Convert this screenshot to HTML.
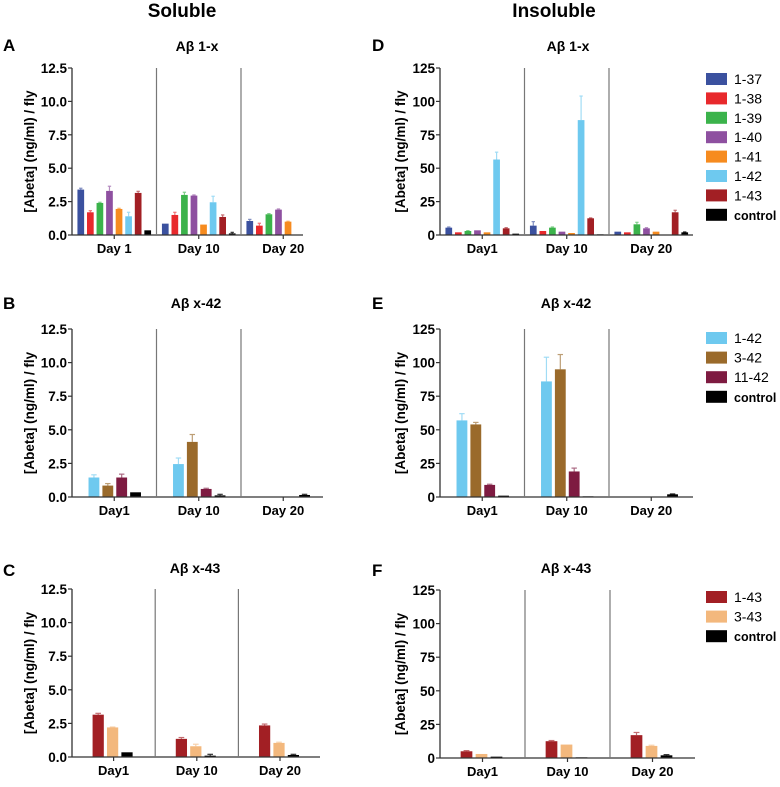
<!DOCTYPE html>
<html><head><meta charset="utf-8"><style>
body{margin:0;background:#fff;font-family:"Liberation Sans",Arial,sans-serif}
svg text{font-family:"Liberation Sans",Arial,sans-serif}
</style></head><body>
<svg id="fig" width="780" height="782" viewBox="0 0 780 782" xmlns="http://www.w3.org/2000/svg">
<text x="182" y="17" font-size="19" font-weight="bold" text-anchor="middle">Soluble</text>
<text x="554" y="17" font-size="19" font-weight="bold" text-anchor="middle">Insoluble</text>
</svg>
<script>
const days = ["Day 1","Day 10","Day 20"];
const daysB = ["Day1","Day 10","Day 20"];
const seriesAx = ["1-37","1-38","1-39","1-40","1-41","1-42","1-43","control"];
const series42 = ["1-42","3-42","11-42","control"];
const series43 = ["1-43","3-43","control"];
const colorsAx = ["#3b519f","#e8292c","#3bb34b","#8e50a0","#f68b1f","#6ec9ef","#a21f24","#000"];
const colors42 = ["#6ec9ef","#9a6a2b","#7e1b41","#000"];
const colors43 = ["#a21f24","#f3b87d","#000"];
// values [day][series]
const valA = [[3.4,1.7,2.4,3.3,1.95,1.4,3.15,0.35],[0.85,1.5,3.0,2.95,0.78,2.45,1.35,0.12],[1.05,0.7,1.55,1.9,1.0,0,2.3,0]];
const errA = [[0.1,0.12,0.05,0.35,0.05,0.3,0.12,0],[0,0.2,0.2,0.05,0,0.45,0.15,0.08],[0.12,0.18,0.05,0.05,0.03,0,0.1,0]];
const valD = [[5.5,2,3,3.5,2,56.5,5,1],[7,3,5.5,2.5,1.5,86,12.5,0.5],[2.5,2,8,5,2.5,0,17,2]];
const errD = [[0.5,0,0.3,0,0,5.5,0.5,0],[3,0,0.5,0,0,18,0.3,0],[0,0,1.5,0.5,0,0,1.5,0.3]];
const valB = [[1.45,0.85,1.45,0.35],[2.45,4.1,0.6,0.12],[0,0,0,0.15]];
const errB = [[0.2,0.15,0.25,0],[0.45,0.55,0.05,0.08],[0,0,0,0.05]];
const valE = [[57,54,9,1],[86,95,19,0.5],[0,0,0,2]];
const errE = [[5,1.5,0.5,0],[18,11,2.5,0],[0,0,0,0.3]];
const valC = [[3.15,2.2,0.35],[1.35,0.8,0.1],[2.35,1.05,0.15]];
const errC = [[0.1,0.03,0],[0.1,0.15,0.1],[0.1,0.05,0.05]];
const valF = [[5,3,1],[12.5,10,0.5],[17,9,2]];
const errF = [[0.5,0,0],[0.5,0,0],[2,0.5,0.5]];
const ticksSol = ["0.0","2.5","5.0","7.5","10.0","12.5"];
const ticksIns = ["0","25","50","75","100","125"];

const NS="http://www.w3.org/2000/svg";
const fig=document.getElementById('fig');
function mk(tag,attrs,parent){const e=document.createElementNS(NS,tag);for(const k in attrs)e.setAttribute(k,attrs[k]);(parent||fig).appendChild(e);return e;}
function lighten(c){if(c==="#000")return "#333";const n=parseInt(c.slice(1),16);let r=n>>16,g=(n>>8)&255,b=n&255;r=Math.round(r+(255-r)*0.35);g=Math.round(g+(255-g)*0.35);b=Math.round(b+(255-b)*0.35);return `rgb(${r},${g},${b})`;}

function panel(o){
  const g=mk('g',{});
  
  
  const ymax=parseFloat(o.ticks[o.ticks.length-1]);
  const y=v=>o.y0-(v/ymax)*(o.y0-o.yTop);
  const gw=o.gw;
  if(o.letter){const t=mk('text',{x:o.lx,y:o.ly,'font-size':17,'font-weight':'bold'},g);t.textContent=o.letter;
    }
  const ti=mk('text',{x:o.tx,y:o.ty,'font-size':14,'font-weight':'bold','text-anchor':'middle'},g);
  ti.textContent=o.title;
  
  const yt=mk('text',{transform:`translate(${o.ytx},${(o.y0+o.yTop)/2}) rotate(-90)`,'font-size':13.5,'font-weight':'bold','text-anchor':'middle'},g);
  yt.textContent="[Abeta] (ng/ml) / fly";
  
  const cid='clip'+o.letter;
  const cp=mk('clipPath',{id:cid},g);mk('rect',{x:o.ax,y:0,width:o.xEnd-o.ax,height:782},cp);
  const bg=mk('g',{'clip-path':`url(#${cid})`},g);
  const n=o.series.length;
  const slot=(gw-o.padL-o.padR)/n;
  const bw=slot*o.bwFrac;
  o.vals.forEach((row,d)=>{
    row.forEach((v,i)=>{
      const cx=o.ax+d*gw+o.padL+slot*i+slot/2;
      const e=o.errs[d][i];
      if(e>0){
        const l=mk('line',{x1:cx,x2:cx,y1:y(v),y2:y(v+e),stroke:lighten(o.colors[i]),'stroke-width':1.2},bg);
        
        const c=mk('line',{x1:cx-bw*0.25,x2:cx+bw*0.25,y1:y(v+e),y2:y(v+e),stroke:lighten(o.colors[i]),'stroke-width':1.2},bg);
        
      }
      if(v>0){
        const r=mk('rect',{x:cx-bw/2,y:y(v),width:bw,height:o.y0-y(v),fill:o.colors[i]},bg);
        
      }
    });
  });
  const ya=mk('line',{x1:o.ax,x2:o.ax,y1:o.yTop,y2:o.y0,stroke:'#333','stroke-width':1.3},g);
  
  const xa=mk('line',{x1:o.ax,x2:o.xEnd,y1:o.y0,y2:o.y0,stroke:'#333','stroke-width':1.3},g);
  
  o.ticks.forEach(t=>{
    const yy=y(parseFloat(t));
    mk('line',{x1:o.ax-4,x2:o.ax,y1:yy,y2:yy,stroke:'#333','stroke-width':1.2},g);
    const tx=mk('text',{x:o.ax-5,y:yy+5,'font-size':13.5,'font-weight':'bold','text-anchor':'end'},g);
    tx.textContent=t;
    
  });
  o.days.forEach((dl,d)=>{
    const cx=o.ax+d*gw+gw/2;
    if(d>0){const dv=mk('line',{x1:o.ax+d*gw,x2:o.ax+d*gw,y1:o.yTop,y2:o.y0,stroke:'#777','stroke-width':1.2},g);
      }
    mk('line',{x1:cx,x2:cx,y1:o.y0,y2:o.y0+4,stroke:'#333','stroke-width':1.2},g);
    const tx=mk('text',{x:cx,y:o.y0+18,'font-size':13,'font-weight':'bold','text-anchor':'middle'},g);
    tx.textContent=dl;
    
  });
  if(o.legendY){
    o.series.forEach((s,i)=>{
      const yy=o.legendY+i*o.legendStep;
      const sw=mk('rect',{x:706,y:yy-6,width:21,height:12,fill:o.colors[i]},g);
      
      const lt=mk('text',{x:734,y:yy+5,'font-size':s==='control'?12.5:14,'font-weight':s==='control'?'bold':'normal'},g);
      lt.textContent=s;
      
    });
  }
}
panel({name:'panel-a',letter:'A',lx:3,ly:51,title:'Aβ 1-x',tx:197,ty:51,ytx:34,ax:72,xEnd:303,yTop:68,y0:235,gw:84.5,ticks:ticksSol,vals:valA,errs:errA,series:seriesAx,colors:colorsAx,days:days,padL:4,padR:4,bwFrac:0.7});
panel({name:'panel-d',letter:'D',lx:372,ly:51,title:'Aβ 1-x',tx:568,ty:51,ytx:405,ax:440,xEnd:693,yTop:68,y0:235,gw:84.5,ticks:ticksIns,vals:valD,errs:errD,series:seriesAx,colors:colorsAx,days:daysB,padL:4,padR:4,bwFrac:0.7,legendY:79,legendStep:19.4});
panel({name:'panel-b',letter:'B',lx:3,ly:309,title:'Aβ x-42',tx:196,ty:308,ytx:34,ax:72,xEnd:323,yTop:329,y0:497,gw:84.5,ticks:ticksSol,vals:valB,errs:errB,series:series42,colors:colors42,days:daysB,padL:15,padR:14,bwFrac:0.78});
panel({name:'panel-e',letter:'E',lx:372,ly:309,title:'Aβ x-42',tx:566,ty:308,ytx:405,ax:440,xEnd:693,yTop:329,y0:497,gw:84.5,ticks:ticksIns,vals:valE,errs:errE,series:series42,colors:colors42,days:daysB,padL:15,padR:14,bwFrac:0.78,legendY:338,legendStep:19.6});
panel({name:'panel-c',letter:'C',lx:3,ly:576,title:'Aβ x-43',tx:195,ty:573,ytx:34,ax:72,xEnd:320,yTop:589,y0:757,gw:83.2,ticks:ticksSol,vals:valC,errs:errC,series:series43,colors:colors43,days:daysB,padL:19,padR:21,bwFrac:0.78});
panel({name:'panel-f',letter:'F',lx:372,ly:576,title:'Aβ x-43',tx:566,ty:573,ytx:405,ax:440,xEnd:695,yTop:590,y0:758,gw:85,ticks:ticksIns,vals:valF,errs:errF,series:series43,colors:colors43,days:daysB,padL:19,padR:21,bwFrac:0.78,legendY:597,legendStep:19.6});
</script>
</body></html>
